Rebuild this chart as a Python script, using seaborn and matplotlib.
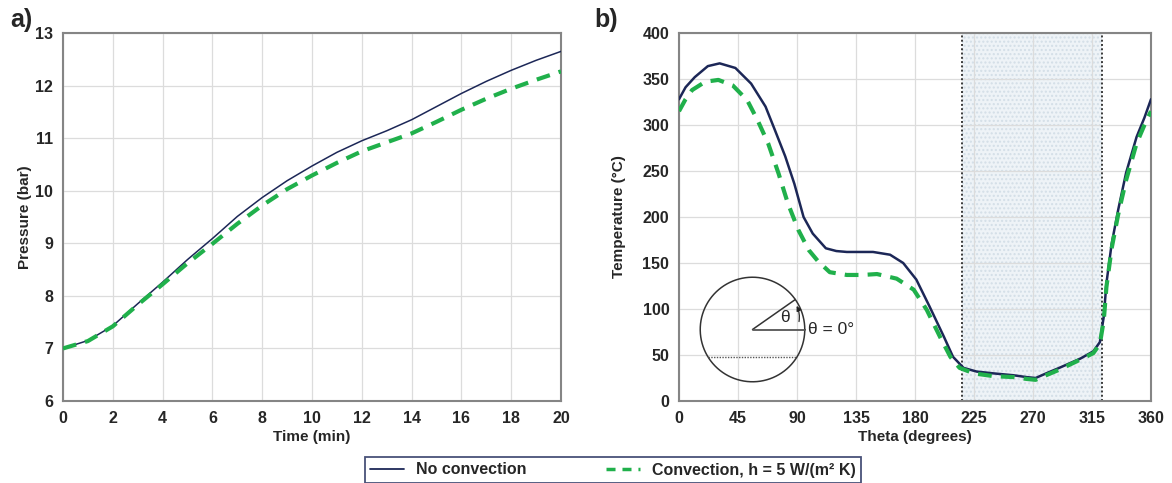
import numpy as np
import pandas as pd
import matplotlib
matplotlib.use("Agg")
import matplotlib.pyplot as plt
import seaborn as sns

# ---------------- data ----------------
time_min = [0, 1, 2, 3, 4, 5, 6, 7, 8, 9, 10, 11, 12, 13, 14, 15, 16, 17, 18, 19, 20]
p_no_conv = [7.0, 7.15, 7.43, 7.85, 8.26, 8.69, 9.09, 9.51, 9.87, 10.19, 10.47, 10.73, 10.95, 11.14,
             11.35, 11.6, 11.85, 12.08, 12.29, 12.48, 12.65]
p_conv = [7.0, 7.14, 7.42, 7.83, 8.22, 8.62, 8.99, 9.37, 9.72, 10.03, 10.29, 10.53, 10.75, 10.92,
          11.09, 11.31, 11.54, 11.75, 11.94, 12.11, 12.27]

theta_no = [0, 5, 12, 22, 31, 43, 55, 66, 73, 81, 88, 95, 102, 112, 120, 128, 138, 148, 161, 171,
            181, 191, 202, 209, 217, 227, 240, 255, 265, 272, 280, 290, 306, 316, 321, 324, 326,
            330, 335, 341, 349, 355, 360]
t_no_conv = [328, 341, 352, 364, 367, 362, 345, 320, 295, 266, 236, 200, 182, 166, 163, 162, 162,
             162, 159, 150, 132, 103, 70, 48, 36, 32, 30, 28, 26, 25, 30, 36, 46, 54, 64, 92, 128,
             171, 208, 248, 287, 308, 328]

theta_conv = [0, 5, 10, 20, 30, 41, 52, 60, 68, 76, 83, 91, 99, 106, 115, 128, 140, 151, 166, 179,
              189, 199, 207, 214, 225, 240, 255, 265, 272, 280, 290, 306, 316, 321, 324, 326, 330,
              335, 341, 349, 355, 360]
t_conv = [315, 328, 338, 347, 349, 343, 327, 305, 280, 247, 215, 186, 164, 152, 140, 137, 137, 138,
          133, 121, 99, 70, 48, 36, 30, 27, 26, 24, 23, 28, 34, 45, 52, 62, 88, 124, 166, 203, 240,
          280, 300, 315]

x_ticks_a = list(range(0, 21, 2))
y_ticks_a = list(range(6, 14))
x_ticks_b = list(range(0, 361, 45))
y_ticks_b = list(range(0, 401, 50))
shade_range = [216, 323]

label_no = "No convection"
label_conv = "Convection, h = 5 W/(m\u00b2 K)"

# ---------------- style ----------------
sns.set_theme(style="whitegrid")
plt.rcParams["font.family"] = ["Liberation Sans", "DejaVu Sans"]
plt.rcParams["font.weight"] = "bold"

NAVY = "#1c2757"
GREEN = "#20b04b"
FRAME = "#858585"
GRID = "#dcdcdc"

fig = plt.figure(figsize=(11.72, 4.83), dpi=100)
axA = fig.add_axes([63 / 1172, 1 - 401 / 483, (561 - 63) / 1172, (401 - 33) / 483])
axB = fig.add_axes([679 / 1172, 1 - 401 / 483, (1151 - 679) / 1172, (401 - 33) / 483])

dfA = pd.DataFrame({"t": time_min, "no": p_no_conv, "conv": p_conv})
dfB1 = pd.DataFrame({"th": theta_no, "T": t_no_conv})
dfB2 = pd.DataFrame({"th": theta_conv, "T": t_conv})

# panel a
sns.lineplot(data=dfA, x="t", y="no", ax=axA, color=NAVY, lw=1.1, zorder=3)
sns.lineplot(data=dfA, x="t", y="conv", ax=axA, color=GREEN, lw=3.0, zorder=4)
axA.lines[-1].set_dashes([3.3, 2.2])

# panel b
axB.axvspan(shade_range[0], shade_range[1], facecolor="#eef3f7", edgecolor="#d3dee7",
            hatch="....", lw=0, zorder=0.2)
for xv in shade_range:
    axB.axvline(xv, color="#3a3a3a", ls=(0, (1, 1.2)), lw=1.4, zorder=2)
sns.lineplot(data=dfB1, x="th", y="T", ax=axB, color=NAVY, lw=1.8, zorder=3)
sns.lineplot(data=dfB2, x="th", y="T", ax=axB, color=GREEN, lw=3.0, zorder=4)
axB.lines[-1].set_dashes([3.3, 2.2])

for ax, xt, yt, xl, yl, lp in [(axA, x_ticks_a, y_ticks_a, "Time (min)", "Pressure (bar)", 2),
                               (axB, x_ticks_b, y_ticks_b, "Theta (degrees)", "Temperature (\u00b0C)", 12)]:
    ax.set_xlim(xt[0], xt[-1])
    ax.set_ylim(yt[0], yt[-1])
    ax.set_xticks(xt)
    ax.set_yticks(yt)
    ax.set_xlabel(xl, fontsize=11, fontweight="bold", labelpad=3)
    ax.set_ylabel(yl, fontsize=11, fontweight="bold", labelpad=lp)
    ax.tick_params(axis="both", length=0, labelsize=11.5, pad=7)
    for lab in ax.get_xticklabels() + ax.get_yticklabels():
        lab.set_fontweight("bold")
    ax.grid(True, color=GRID, lw=0.9)
    ax.set_axisbelow(True)
    for s in ax.spines.values():
        s.set_color(FRAME)
        s.set_linewidth(1.5)
    ax.set_facecolor("white")

fig.text(10 / 1172, 1 - 20 / 483, "a)", fontsize=18, fontweight="bold", va="center", ha="left")
fig.text(594 / 1172, 1 - 20 / 483, "b)", fontsize=18, fontweight="bold", va="center", ha="left")

# inset circle
axC = fig.add_axes([695 / 1172, 1 - 387 / 483, 115 / 1172, 115 / 483])
axC.set_xlim(-1.1, 1.1)
axC.set_ylim(-1.1, 1.1)
axC.set_aspect("equal")
axC.axis("off")
axC.patch.set_alpha(0)
th = np.linspace(0, 2 * np.pi, 200)
axC.plot(np.cos(th), np.sin(th), color="#333333", lw=1.1)
ang = np.deg2rad(35)
axC.plot([0, np.cos(ang)], [0, np.sin(ang)], color="#333333", lw=1.1)
axC.plot([0, 1], [0, 0], color="#555555", lw=1.3)
cy = -0.52
cx = np.sqrt(1 - cy ** 2)
axC.plot([-cx, cx], [cy, cy], color="#555555", lw=1.0, ls=(0, (1, 1)))
axC.text(0.62, 0.22, "\u03b8", fontsize=12.5, fontweight="normal", ha="center", va="center")
axC.annotate("", xy=(0.82, 0.5), xytext=(0.88, 0.1),
             arrowprops=dict(arrowstyle="-|>", color="#222222", lw=0.9,
                             connectionstyle="arc3,rad=0.2", mutation_scale=7))
axC.text(1.07, 0.0, "\u03b8 = 0\u00b0", fontsize=12.5, fontweight="normal", ha="left", va="center",
         clip_on=False)

# legend
h1 = plt.Line2D([], [], color=NAVY, lw=1.3)
h2 = plt.Line2D([], [], color=GREEN, lw=2.5, dashes=[2.6, 2.0])
leg = fig.legend([h1, h2], [label_no, label_conv], loc="center",
                 bbox_to_anchor=(613 / 1172, 1 - 470 / 483), ncol=2, frameon=True,
                 fancybox=False, fontsize=11.5, handlelength=2.1, columnspacing=5.0,
                 borderpad=0.35, handletextpad=0.75, borderaxespad=0)
leg.get_frame().set_edgecolor(NAVY)
leg.get_frame().set_linewidth(1.3)
for t in leg.get_texts():
    t.set_fontweight("bold")

fig.savefig("out.png", dpi=100)
